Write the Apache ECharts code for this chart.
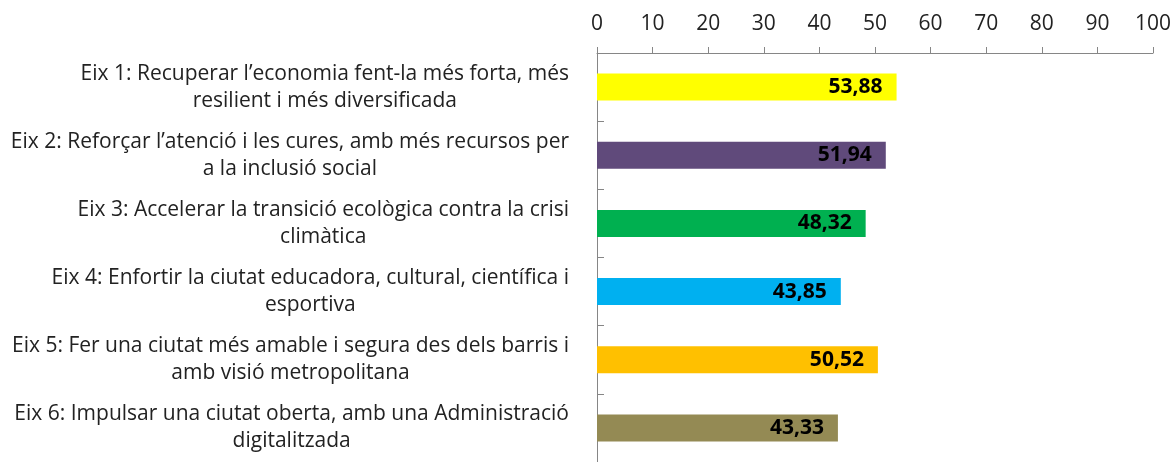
<!DOCTYPE html>
<html>
<head>
<meta charset="utf-8">
<script src="https://cdn.jsdelivr.net/npm/echarts@6/dist/echarts.min.js"></script>
<style>
  html, body { margin: 0; padding: 0; background: #fff; }
  #chart { width: 1175px; height: 462px; }
</style>
</head>
<body>
<div id="chart"></div>
<script>
// Eixos (top to bottom) and their scores
const categories = [
  'Eix 1: Recuperar l’economia fent-la més forta, més\nresilient i més diversificada',
  'Eix 2: Reforçar l’atenció i les cures, amb més recursos per\na la inclusió social',
  'Eix 3: Accelerar la transició ecològica contra la crisi\nclimàtica',
  'Eix 4: Enfortir la ciutat educadora, cultural, científica i\nesportiva',
  'Eix 5: Fer una ciutat més amable i segura des dels barris i\namb visió metropolitana',
  'Eix 6: Impulsar una ciutat oberta, amb una Administració\ndigitalitzada'
];
const values = [53.88, 51.94, 48.32, 43.85, 50.52, 43.33];
const barColors = ['#FFFF00', '#604A7B', '#00B050', '#00B0F0', '#FFC000', '#948A54'];

const FONT = '"Open Sans", "Noto Sans", sans-serif';
const AXIS_GREY = '#868686';

const chart = echarts.init(document.getElementById('chart'), null, { renderer: 'canvas' });

chart.setOption({
  backgroundColor: '#fff',
  animation: false,
  grid: { left: 597, right: 22, top: 53, height: 412, containLabel: false },
  xAxis: {
    type: 'value',
    position: 'top',
    min: 0,
    max: 100,
    interval: 10,
    axisLine: { show: true, lineStyle: { color: AXIS_GREY, width: 1 } },
    axisTick: { show: true, length: 6, lineStyle: { color: AXIS_GREY } },
    splitLine: { show: false },
    axisLabel: { color: '#222', fontSize: 21, fontFamily: FONT, margin: 18 }
  },
  yAxis: {
    type: 'category',
    inverse: true,
    data: categories,
    axisLine: { show: true, lineStyle: { color: AXIS_GREY, width: 1 } },
    axisTick: { show: true, inside: true, length: 7, lineStyle: { color: AXIS_GREY } },
    axisLabel: {
      margin: 28,
      align: 'right',
      formatter: v => v.split('\n').map(l => '{c|' + l + '}').join('\n'),
      rich: {
        c: { align: 'center', color: '#222', fontSize: 21, fontFamily: FONT, lineHeight: 27 }
      }
    }
  },
  series: [{
    type: 'bar',
    barWidth: 27,
    data: values.map((v, i) => ({ value: v, itemStyle: { color: barColors[i] } })),
    label: {
      show: true,
      position: 'insideRight',
      distance: 14,
      color: '#000',
      fontSize: 21,
      fontWeight: 'bold',
      fontFamily: FONT,
      formatter: p => p.value.toFixed(2).replace('.', ',')
    },
    emphasis: { disabled: true }
  }]
});
</script>
</body>
</html>
